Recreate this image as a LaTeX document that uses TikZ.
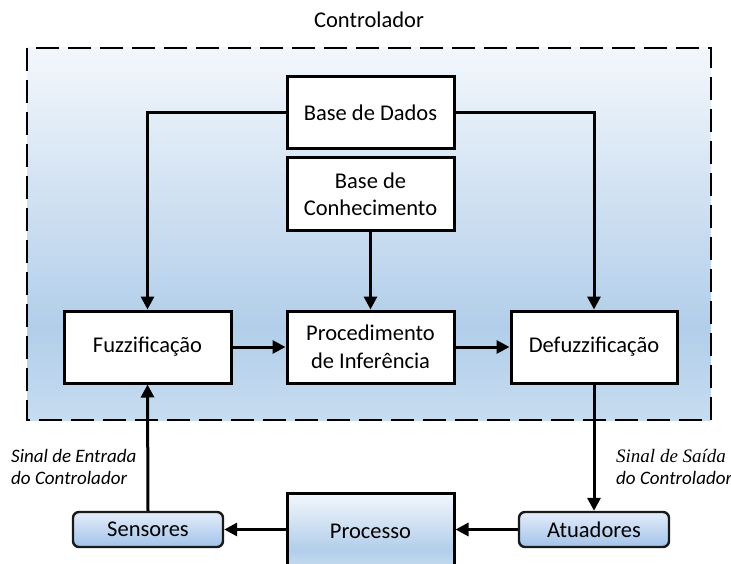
\documentclass[tikz,border=0pt]{standalone}
\usepackage{fontspec}
\setmainfont{Carlito}
\newfontfamily\serifit{Liberation Serif}
\usetikzlibrary{arrows.meta}

\definecolor{ctrltop}{HTML}{F3F7FC}
\definecolor{ctrlmid}{HTML}{B2CEEA}
\definecolor{ctrlbot}{HTML}{C6DCF0}
\definecolor{unittop}{HTML}{E3EDF9}
\definecolor{unitbot}{HTML}{A2C2EB}
\pgfdeclareverticalshading{ctrlfill}{100bp}{color(0bp)=(ctrlbot); color(25bp)=(ctrlbot); color(37.5bp)=(ctrlmid); color(75bp)=(ctrltop); color(100bp)=(ctrltop)}

\tikzset{
  block/.style={draw, line width=3pt, fill=white, minimum width=167pt, minimum height=72pt,
    align=center, inner sep=0pt, font=\fontsize{22.5}{27.5}\selectfont},
  unit/.style={draw=black!90, line width=2.4pt, rounded corners=6pt, top color=unittop, bottom color=unitbot,
    minimum width=150pt, minimum height=35pt, inner sep=0pt, font=\fontsize{22.5}{27}\selectfont},
  signal/.style={align=left, inner sep=0pt, font=\fontsize{19}{22}\selectfont\itshape},
}

\begin{document}
\begin{tikzpicture}[x=1pt,y=-1pt]
      \useasboundingbox (0,0) rectangle (731,564);
      % controller region
      \shade[shading=ctrlfill] (27,48) rectangle (711,420);
      \draw[line width=2.8pt, dash pattern=on 23pt off 9pt] (27,48) rectangle (711,420);
      \node[font=\fontsize{22.5}{27}\selectfont] (ctrl) at (369,20) {Controlador};
      \draw
        (370.5,113) node[block] (dados){Base de Dados}
        (370.5,194.5) node[block, minimum height=73pt] (conhec){Base de\\Conhecimento}
        (147.5,347) node[block] (fuzz){Fuzzificação}
        (370.5,347) node[block] (proc){Procedimento\\de Inferência}
        (594,347) node[block, minimum width=166pt] (defuzz){Defuzzificação};
      % plant loop
      \draw
        (148,529.5) node[unit] (sens){Sensores}
        (370.5,531) node[block, shading=ctrlfill, minimum height=76pt] (processo){Processo}
        (594,529.5) node[unit] (atu){Atuadores};
      \node[signal, anchor=west] (entrada) at (11,467) {Sinal de Entrada\\do Controlador};
      \node[signal, anchor=west] (saida) at (616,467) {{\serifit\fontsize{19}{22}\selectfont Sinal de Saída}\\do Controlador};
      \begin{scope}[line width=3pt, -{Triangle[length=13pt,width=13pt]}]
        \draw (dados.west) -| (fuzz.north);
        \draw (dados.east) -| (defuzz.north);
        \draw (conhec.south) to (proc.north);
        \draw (fuzz.east) to (proc.west);
        \draw (proc.east) to (defuzz.west);
        \draw (defuzz.south) to (atu.north);
        \draw (atu.west) to (atu.west -| processo.east);
        \draw (processo.west |- sens.east) to (sens.east);
        \draw (sens.north) to (fuzz.south);
      \end{scope}
    \end{tikzpicture}
\end{document}
